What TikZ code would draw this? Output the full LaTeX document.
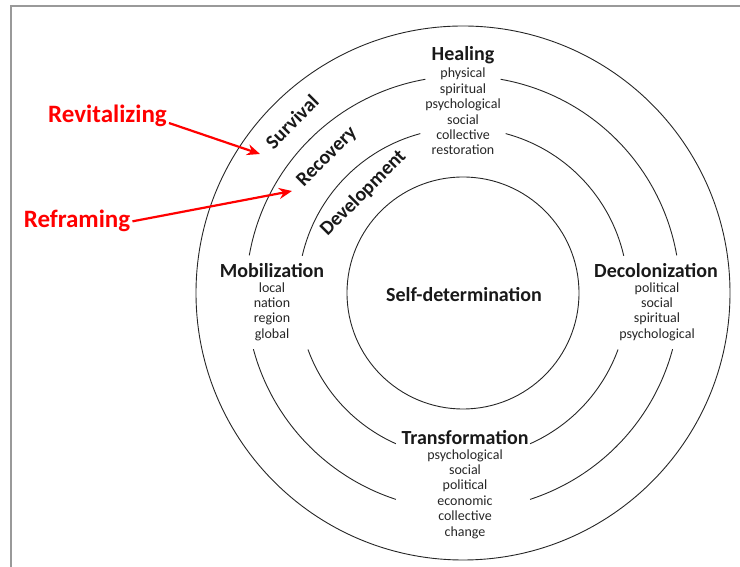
\documentclass[tikz,border=0pt]{standalone}
\usepackage{fontspec}
\setmainfont{Carlito}
\usepackage{tikz}
\usetikzlibrary{arrows.meta}

\tikzset{
  ring/.style={line width=0.9pt, black!85},
  head/.style={font=\fontsize{20}{24}\selectfont\bfseries, text=black!90, inner sep=0pt},
  items/.style={font=\fontsize{14}{15.4}\selectfont, text=black!85, align=center, inner sep=0pt},
  stage/.style={font=\fontsize{20}{24}\selectfont\bfseries, text=black!90, rotate=45, inner sep=0pt},
  redlabel/.style={font=\fontsize{25}{30}\selectfont\bfseries, text=red, inner sep=2pt},
  redarrow/.style={red, line width=2.2pt, -{Stealth[length=13pt,width=11pt]}}
}

\begin{document}
\begin{tikzpicture}[x=1pt,y=1pt]
%%%
% frame and rings
%%%
\useasboundingbox (0,0) rectangle (740,567);
\draw[gray!80, line width=1.5pt] (11,0) |- (740,561);

\coordinate (C) at (463,274);
\draw[ring] (C) circle[radius=267];
\draw[ring] (C) circle[radius=116];
\foreach \r/\a/\b in {217/10/80, 217/100/170, 217/195/252, 217/288/345,
                      165/13/75, 165/105/167, 165/200/246, 165/294/340}
  \draw[ring] ([shift={(\a:\r)}]C) arc[start angle=\a, end angle=\b, radius=\r];

%%%
% labels
%%%
\node[head] (self) at (464,272) {Self-determination};

\node[head] (heal) at (463,512) {Healing};
\node[items] (healitems) at (463,455.5) {physical\\spiritual\\psychological\\social\\collective\\restoration};

\node[head] (mob) at (272,296) {Mobilization};
\node[items] (mobitems) at (272,255.5) {local\\nation\\region\\global};

\node[head] (decol) at (656,296) {Decolonization};
\node[items] (decolitems) at (657,255.5) {political\\social\\spiritual\\psychological};

\node[head] (trans) at (465,129) {Transformation};
\node[items] (transitems) at (465,73) {psychological\\social\\political\\economic\\collective\\change};

\node[stage] (surv) at ([shift={(135:242)}]C) {Survival};
\node[stage] (reco) at ([shift={(135:192)}]C) {Recovery};
\node[stage] (devel) at ([shift={(135:141)}]C) {Development};

%%%
% red arrows
%%%
\node[redlabel, anchor=base] (revit) at (107.5,444) {Revitalizing};
\node[redlabel, anchor=base] (refr) at (77,339) {Reframing};
\coordinate (revtip) at (260,413);
\coordinate (refrtip) at (292,376);
\draw[redarrow] (revit.base east) -- (revtip);
\draw[redarrow] (refr.east) -- (refrtip);
\end{tikzpicture}
\end{document}
